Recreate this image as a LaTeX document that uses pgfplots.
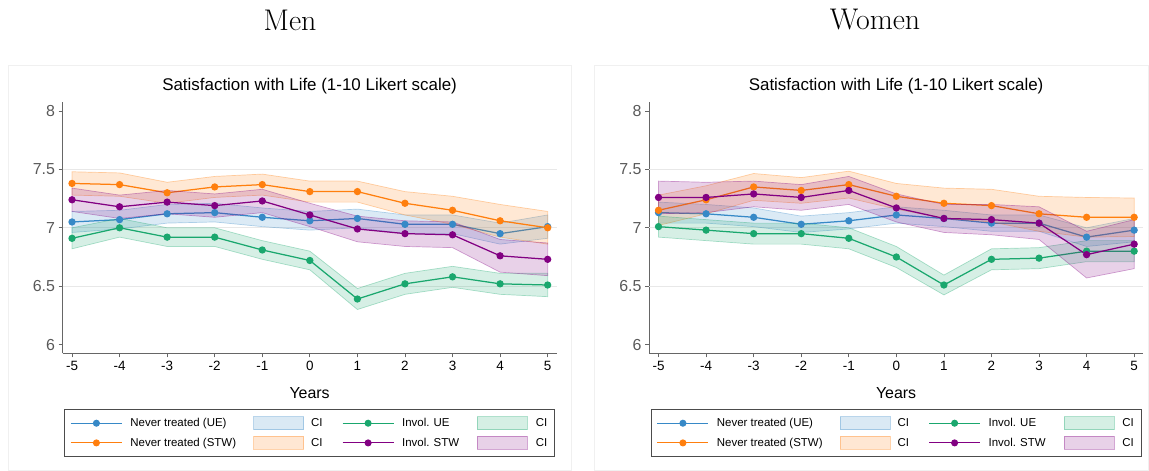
\documentclass[border=0pt]{standalone}
\usepackage{fontspec}
\usepackage{pgfplots}
\pgfplotsset{compat=1.18}
\newfontfamily\helv{Liberation Sans}
\newfontfamily\lmr{Latin Modern Roman}

\definecolor{cblue}{RGB}{55,137,199}
\definecolor{corange}{RGB}{255,127,14}
\definecolor{cgreen}{RGB}{26,167,110}
\definecolor{cpurple}{RGB}{130,0,130}

\pgfplotsset{
  est/.style={color=#1, draw=#1, line width=1.25bp, mark=*, mark size=3bp,
    mark options={solid, fill=#1, draw=#1}},
  ci/.style={draw=#1, draw opacity=.35, line width=.7bp, fill=#1, fill opacity=.18},
  lineimg/.style={legend image code/.code={%
    \draw[mark repeat=2, mark phase=2, ##1, line width=1bp] plot coordinates {(0bp,0bp) (25.5bp,0bp) (51bp,0bp)};}},
  patchimg/.style={legend image code/.code={%
    \draw[##1] (0bp,-6.5bp) rectangle (50bp,6.5bp);}},
  panel/.style={
    scale only axis, width=494.2bp, height=251.6bp,
    xmin=-5.2, xmax=5.19, ymin=5.925, ymax=8.08,
    axis x line*=bottom, axis y line*=left,
    axis line style={-, draw=black!60, line width=0.8bp},
    xtick={-5,-4,-3,-2,-1,0,1,2,3,4,5},
    xticklabels={-5,-4,-3,-2,-1,0,1,2,3,4,5},
    ytick={6,6.5,7,7.5,8},
    yticklabels={6,6.5,7,7.5,8},
    tick align=outside, major tick length=4bp,
    tick style={draw=black!60, line width=0.8bp},
    extra y ticks={6.5,7,7.5},
    extra y tick labels={},
    extra y tick style={grid=major, major tick length=0pt,
      grid style={draw=black!9, line width=0.9bp}},
    xticklabel style={font=\helv\fontsize{13.5}{15}\selectfont, text=black},
    yticklabel style={font=\helv\fontsize{16}{18}\selectfont, text=black!65},
    title style={font=\helv\fontsize{17}{19}\selectfont, at={(0.5,1)}, anchor=base, yshift=5bp},
    title={Satisfaction with Life (1-10 Likert scale)},
    xlabel={Years},
    xlabel style={font=\helv\fontsize{16}{18}\selectfont, at={(axis description cs:0.5,0)},
      anchor=base, yshift=-44.7bp},
    legend columns=4,
    legend style={at={(0.5,-0.2214)}, anchor=north, draw=black!70, line width=0.7bp,
      fill=white, font=\helv\fontsize{11.5}{13}\selectfont,
      inner xsep=6bp, inner ysep=7bp, row sep=6bp,
      nodes={inner sep=0pt}},
  },
}

\newcommand\legendblock{%
  \addlegendimage{lineimg, est=cblue}
  \addlegendentry{\makebox[131bp][l]{\hspace{8bp}Never treated (UE)}}
  \addlegendimage{patchimg, ci=cblue}
  \addlegendentry{\makebox[38bp][l]{\hspace{7bp}CI}}
  \addlegendimage{lineimg, est=cgreen}
  \addlegendentry{\makebox[83bp][l]{\hspace{8bp}Invol. UE}}
  \addlegendimage{patchimg, ci=cgreen}
  \addlegendentry{\makebox[21bp][l]{\hspace{8bp}CI}}
  \addlegendimage{lineimg, est=corange}
  \addlegendentry{\makebox[131bp][l]{\hspace{8bp}Never treated (STW)}}
  \addlegendimage{patchimg, ci=corange}
  \addlegendentry{\makebox[38bp][l]{\hspace{7bp}CI}}
  \addlegendimage{lineimg, est=cpurple}
  \addlegendentry{\makebox[83bp][l]{\hspace{8bp}Invol. STW}}
  \addlegendimage{patchimg, ci=cpurple}
  \addlegendentry{\makebox[21bp][l]{\hspace{8bp}CI}}
}

\begin{document}
\begin{tikzpicture}
\useasboundingbox (0,0) rectangle (1149bp,-471bp);
\draw[black!6, line width=1bp] (8.5bp,-65bp) rectangle (571bp,-470.5bp);
\draw[black!6, line width=1bp] (594bp,-65bp) rectangle (1148.5bp,-470.5bp);
\node[font=\lmr\fontsize{30}{32}\selectfont] at (290bp,-20bp) {Men};
\node[font=\lmr\fontsize{30}{32}\selectfont] at (875bp,-20bp) {Women};

% ================= Men =================
\begin{axis}[panel, at={(62.5bp,-353.3bp)}, anchor=south west]
  % Never treated (UE): 95% band (upper bound left to right, lower bound back), estimates
  \addplot[ci=cblue, forget plot] coordinates {
    (-5,7.14) (-4,7.15) (-3,7.20) (-2,7.21) (-1,7.17) (0,7.14) (1,7.16) (2,7.11) (3,7.11) (4,7.04) (5,7.11)
    (5,6.91) (4,6.86) (3,6.95) (2,6.95) (1,7.00) (0,6.98) (-1,7.01) (-2,7.05) (-3,7.04) (-4,6.99) (-5,6.96)} -- cycle;
  \addplot[est=cblue, forget plot] coordinates {
    (-5,7.05) (-4,7.07) (-3,7.12) (-2,7.13) (-1,7.09) (0,7.06) (1,7.08) (2,7.03) (3,7.03) (4,6.95) (5,7.01)};
  % Never treated (STW)
  \addplot[ci=corange, forget plot] coordinates {
    (-5,7.48) (-4,7.47) (-3,7.39) (-2,7.44) (-1,7.46) (0,7.40) (1,7.40) (2,7.31) (3,7.27) (4,7.20) (5,7.14)
    (5,6.86) (4,6.92) (3,7.03) (2,7.11) (1,7.22) (0,7.22) (-1,7.28) (-2,7.26) (-3,7.21) (-4,7.27) (-5,7.28)} -- cycle;
  \addplot[est=corange, forget plot] coordinates {
    (-5,7.38) (-4,7.37) (-3,7.30) (-2,7.35) (-1,7.37) (0,7.31) (1,7.31) (2,7.21) (3,7.15) (4,7.06) (5,7.00)};
  % Invol. UE
  \addplot[ci=cgreen, forget plot] coordinates {
    (-5,7.00) (-4,7.08) (-3,7.00) (-2,7.00) (-1,6.89) (0,6.80) (1,6.48) (2,6.61) (3,6.67) (4,6.61) (5,6.61)
    (5,6.41) (4,6.43) (3,6.49) (2,6.43) (1,6.30) (0,6.64) (-1,6.73) (-2,6.84) (-3,6.84) (-4,6.92) (-5,6.82)} -- cycle;
  \addplot[est=cgreen, forget plot] coordinates {
    (-5,6.91) (-4,7.00) (-3,6.92) (-2,6.92) (-1,6.81) (0,6.72) (1,6.39) (2,6.52) (3,6.58) (4,6.52) (5,6.51)};
  % Invol. STW
  \addplot[ci=cpurple, forget plot] coordinates {
    (-5,7.34) (-4,7.28) (-3,7.32) (-2,7.29) (-1,7.33) (0,7.21) (1,7.10) (2,7.06) (3,7.05) (4,6.90) (5,6.87)
    (5,6.59) (4,6.62) (3,6.83) (2,6.84) (1,6.88) (0,7.01) (-1,7.13) (-2,7.09) (-3,7.12) (-4,7.08) (-5,7.14)} -- cycle;
  \addplot[est=cpurple, forget plot] coordinates {
    (-5,7.24) (-4,7.18) (-3,7.22) (-2,7.19) (-1,7.23) (0,7.11) (1,6.99) (2,6.95) (3,6.94) (4,6.76) (5,6.73)};
  \legendblock
\end{axis}

% ================= Women =================
\begin{axis}[panel, at={(649bp,-353.3bp)}, anchor=south west]
  % Never treated (UE)
  \addplot[ci=cblue, forget plot] coordinates {
    (-5,7.22) (-4,7.20) (-3,7.17) (-2,7.10) (-1,7.13) (0,7.18) (1,7.15) (2,7.11) (3,7.11) (4,7.00) (5,7.08)
    (5,6.88) (4,6.84) (3,6.97) (2,6.97) (1,7.01) (0,7.04) (-1,6.99) (-2,6.96) (-3,7.01) (-4,7.04) (-5,7.04)} -- cycle;
  \addplot[est=cblue, forget plot] coordinates {
    (-5,7.13) (-4,7.12) (-3,7.09) (-2,7.03) (-1,7.06) (0,7.11) (1,7.08) (2,7.04) (3,7.04) (4,6.92) (5,6.98)};
  % Never treated (STW)
  \addplot[ci=corange, forget plot] coordinates {
    (-5,7.28) (-4,7.36) (-3,7.465) (-2,7.43) (-1,7.485) (0,7.38) (1,7.34) (2,7.33) (3,7.27) (4,7.26) (5,7.255)
    (5,6.925) (4,6.92) (3,6.97) (2,7.05) (1,7.08) (0,7.16) (-1,7.255) (-2,7.21) (-3,7.235) (-4,7.12) (-5,7.02)} -- cycle;
  \addplot[est=corange, forget plot] coordinates {
    (-5,7.15) (-4,7.24) (-3,7.35) (-2,7.32) (-1,7.37) (0,7.27) (1,7.21) (2,7.19) (3,7.12) (4,7.09) (5,7.09)};
  % Invol. UE
  \addplot[ci=cgreen, forget plot] coordinates {
    (-5,7.10) (-4,7.07) (-3,7.04) (-2,7.04) (-1,7.00) (0,6.84) (1,6.595) (2,6.82) (3,6.83) (4,6.89) (5,6.89)
    (5,6.71) (4,6.71) (3,6.65) (2,6.64) (1,6.425) (0,6.66) (-1,6.82) (-2,6.86) (-3,6.86) (-4,6.89) (-5,6.92)} -- cycle;
  \addplot[est=cgreen, forget plot] coordinates {
    (-5,7.01) (-4,6.98) (-3,6.95) (-2,6.95) (-1,6.91) (0,6.75) (1,6.51) (2,6.73) (3,6.74) (4,6.80) (5,6.80)};
  % Invol. STW
  \addplot[ci=cpurple, forget plot] coordinates {
    (-5,7.40) (-4,7.39) (-3,7.40) (-2,7.37) (-1,7.44) (0,7.29) (1,7.20) (2,7.20) (3,7.18) (4,6.97) (5,7.07)
    (5,6.65) (4,6.57) (3,6.90) (2,6.94) (1,6.96) (0,7.05) (-1,7.20) (-2,7.15) (-3,7.18) (-4,7.13) (-5,7.12)} -- cycle;
  \addplot[est=cpurple, forget plot] coordinates {
    (-5,7.26) (-4,7.26) (-3,7.29) (-2,7.26) (-1,7.32) (0,7.17) (1,7.08) (2,7.07) (3,7.04) (4,6.77) (5,6.86)};
  \legendblock
\end{axis}
\end{tikzpicture}
\end{document}
